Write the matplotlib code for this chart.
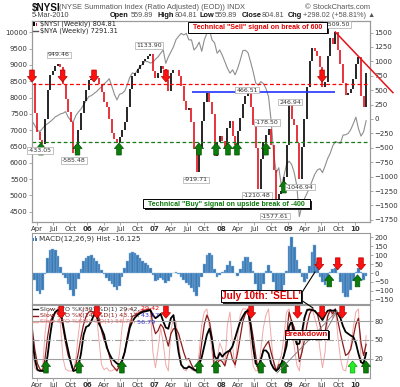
import matplotlib
matplotlib.use("Agg")
import matplotlib.pyplot as plt
import matplotlib.dates as mdates
from matplotlib.patches import Polygon, Rectangle
from matplotlib.lines import Line2D
from matplotlib.transforms import IdentityTransform
import pandas as pd

W, H = 400, 387

# biweekly readings taken off the chart
dates = pd.date_range("2005-03-08", periods=131, freq="14D")

nysi = [620, 100, -220, -370, -433, 0, 500, 770, 840, 920,
        949, 900, 600, 350, 120, -60, -585, -450, -190, 100,
        320, 500, 680, 700, 706, 710, 600, 460, 300, 214,
        0, -248, -340, -420, -320, -190, -50, 200, 520, 740,
        800, 860, 935, 1000, 1050, 1100, 1134, 830, 720, 800,
        920, 860, 680, 480, 790, 850, 850, 750, 580, 320,
        160, 190, -60, -520, -920, -500, -40, 300, 450, 300,
        80, -650, -400, -300, -380, -520, -150, -30, -300, -450,
        -200, 20, 260, 400, 466, 200, -100, -500, -1210, -700,
        -400, -280, -178, -450, -890, -1578, -1300, -1250, -1000, -450,
        247, 0, -100, -420, -1047, -480, 0, 560, 1000, 1226,
        1180, 1100, 900, 550, 650, 1100, 1400, 1300, 1509, 1200,
        950, 620, 417, 450, 520, 700, 950, 1082, 400, 214,
        805]

nya = [7280, 7150, 7000, 6960, 7050, 7150, 7200, 7260, 7330, 7410,
       7450, 7500, 7520, 7570, 7400, 7300, 7260, 7450, 7560, 7650,
       7780, 7900, 8030, 8060, 8120, 8180, 8260, 8330, 8420, 8490,
       8580, 8350, 8100, 7930, 8100, 8130, 8200, 8390, 8620, 8760,
       8720, 8850, 8950, 9030, 9120, 9100, 9060, 9080, 9180, 9250,
       9360, 9460, 9050, 9250, 9400, 9560, 9780, 9880, 9970, 9920,
       9970, 9770, 9770, 9460, 9550, 9700, 9420, 9770, 9970, 10080,
       9770, 9680, 9360, 9460, 9300, 9100, 8900, 8750, 8850, 8700,
       8900, 9150, 9440, 9450, 9380, 9100, 8800, 8450, 8380, 8490,
       8430, 8280, 8030, 7300, 6290, 5700, 5850, 5300, 5600, 5950,
       6050, 5950, 5700, 5300, 4350, 4700, 4900, 5070, 5250, 5450,
       5650, 5780, 5820, 5700, 5900, 6130, 6290, 6520, 6650, 6620,
       6600, 6850, 6860, 6900, 7020, 7200, 7400, 7050, 6820, 6950,
       7291]

macd_hist = [-10, -40, -100, -120, -95, -5, 85, 130, 134, 128,
             95, 35, -10, -30, -62, -95, -130, -90, -35, 20,
             65, 82, 98, 100, 84, 68, 48, 18, -8, -28,
             -45, -62, -80, -94, -75, -20, 30, 70, 110, 121,
             112, 100, 85, 70, 58, 44, 28, -10, -45, -40,
             -28, -38, -55, -45, -20, 0, 5, -5, -20, -38,
             -55, -65, -85, -105, -130, -80, -20, 50, 100, 115,
             100, 20, -25, -10, 8, 15, 45, 65, 40, 0,
             -15, 20, 70, 88, 90, 60, 10, -60, -125, -130,
             -60, 10, 45, 10, -50, -115, -150, -140, -70, 10,
             150, 200, 145, 75, 20, -25, -50, -35, 40, 120,
             158, 60, -20, -50, -65, -40, 5, 25, 28, 0,
             -50, -110, -135, -135, -95, -45, 5, 28, 5, -40,
             -16]

sto39 = [53, 20, 2, 0, 0, 0, 25, 58, 85, 95,
         98, 98, 75, 52, 33, 14, 0, 1, 8, 28,
         58, 71, 73, 80, 90, 90, 76, 68, 58, 38,
         28, 20, 16, 12, 10, 16, 30, 50, 70, 80,
         86, 90, 93, 95, 96, 97, 98, 90, 85, 88,
         92, 80, 70, 68, 85, 90, 60, 30, 10, 5,
         4, 7, 5, 2, 0, 10, 22, 40, 58, 68,
         50, 24, 18, 29, 23, 28, 31, 33, 40, 53,
         67, 80, 88, 95, 97, 74, 38, 12, 8, 18,
         33, 33, 28, 12, 4, 0, 4, 12, 25, 40,
         72, 80, 58, 43, 44, 62, 86, 98, 99, 98,
         97, 92, 88, 82, 90, 97, 98, 97, 98, 92,
         85, 72, 63, 60, 57, 55, 45, 28, 14, 12,
         29]

sto14 = [70, 35, 12, 3, 0, 20, 55, 80, 88, 95,
         98, 92, 70, 45, 25, 15, 0, 10, 30, 55,
         75, 88, 95, 96, 95, 95, 85, 65, 50, 42,
         25, 10, 5, 0, 8, 18, 30, 55, 75, 88,
         90, 92, 95, 97, 98, 99, 100, 75, 60, 65,
         75, 70, 55, 40, 60, 68, 68, 60, 45, 30,
         18, 20, 10, 3, 0, 12, 45, 75, 90, 80,
         55, 0, 12, 18, 15, 8, 25, 35, 18, 10,
         30, 55, 80, 92, 100, 80, 55, 25, 0, 18,
         35, 42, 48, 30, 15, 0, 10, 12, 25, 55,
         95, 80, 70, 50, 15, 30, 50, 75, 92, 100,
         96, 92, 75, 55, 62, 88, 98, 92, 100, 80,
         60, 42, 25, 28, 35, 55, 75, 85, 45, 25,
         43]

sto5 = [60, 5, 0, 0, 2, 60, 95, 100, 98, 100,
        98, 75, 20, 3, 0, 0, 0, 20, 60, 90,
        100, 100, 100, 95, 90, 92, 50, 10, 2, 5,
        0, 0, 3, 2, 30, 70, 95, 100, 100, 100,
        92, 95, 98, 100, 98, 100, 97, 30, 5, 35,
        70, 45, 10, 0, 65, 85, 80, 45, 12, 2,
        0, 10, 2, 0, 0, 30, 75, 95, 100, 70,
        30, 0, 20, 45, 35, 10, 75, 95, 40, 5,
        55, 90, 100, 100, 98, 45, 8, 0, 0, 35,
        70, 90, 100, 55, 10, 0, 15, 25, 55, 95,
        100, 65, 40, 10, 0, 40, 80, 100, 100, 100,
        85, 70, 35, 5, 30, 85, 100, 85, 100, 55,
        20, 2, 0, 20, 40, 70, 95, 100, 20, 3,
        57]

# signal arrows (dates)
main_sell = ["2005-03-07", "2005-08-21", "2006-02-08", "2007-03-07", "2009-07-05"]
main_buy = ["2005-04-25", "2005-11-10", "2006-06-24", "2007-09-03", "2007-12-05",
            "2008-02-08", "2008-03-28", "2008-09-02"]
main_buy_low = ["2008-12-09"]
macd_sell = ["2009-06-19", "2009-09-28", "2010-02-02"]
macd_buy = ["2009-08-13", "2010-01-14"]
sto_sell = ["2005-08-13", "2006-02-24", "2007-03-07", "2008-06-13", "2009-02-21",
            "2009-07-05", "2009-10-22"]
sto_buy = ["2005-05-22", "2005-11-18", "2006-07-10", "2007-09-03", "2007-12-05",
           "2008-08-06", "2008-12-09", "2010-03-01"]
sto_buy_lime = ["2009-12-18"]

fig = plt.figure(figsize=(W / 100, H / 100), dpi=100)
fig.patch.set_facecolor("white")
SANS = "Liberation Sans"


def px_box(l, t, r, b):
    return [l / W, 1 - b / H, (r - l) / W, (b - t) / H]


def ftext(x, y, s, **kw):
    kw.setdefault("va", "center")
    return fig.text(x / W, 1 - y / H, s, **kw)


xlim = (pd.Timestamp("2005-03-07"), pd.Timestamp("2010-03-23"))
ticks, labels = [], []
for yr in range(2005, 2011):
    for m in (1, 4, 7, 10):
        d = pd.Timestamp(yr, m, 1)
        if xlim[0] < d < xlim[1]:
            ticks.append(d)
            labels.append("%02d" % (yr % 100) if m == 1 else d.strftime("%b"))

ax_nya = fig.add_axes(px_box(32, 21, 370, 222))
ax = ax_nya.twinx()
ax_macd = fig.add_axes(px_box(32, 233, 370, 304))
ax_sto = fig.add_axes(px_box(32, 305, 370, 377.5))

for a in (ax_nya, ax, ax_macd, ax_sto):
    a.set_xlim(*xlim)
    for s in a.spines.values():
        s.set_color("#9a9a9a")
        s.set_linewidth(0.8)
    a.tick_params(length=2, width=0.5, color="#888888", labelsize=5,
                  labelcolor="#333333", pad=1)

for a in (ax_nya, ax_macd, ax_sto):
    a.set_xticks(ticks)
    a.set_xticklabels(labels)
    for lab in a.get_xticklabels():
        if lab.get_text().isdigit():
            lab.set_fontweight("bold")
ax_macd.tick_params(axis="x", labelbottom=False)

# main panel
ax_nya.plot(dates, nya, color="#8e8e8e", lw=0.8)
ax_nya.set_ylim(4185, 10349)
ax_nya.set_yticks(range(4500, 10001, 500))

cols = ["black" if b >= a else "#e3121b" for a, b in zip(nysi[:-1], nysi[1:])]
ax.vlines(dates[1:], nysi[:-1], nysi[1:], colors=cols, lw=1.2)
ax.set_ylim(-1788, 1701)
ax.set_yticks(range(-1750, 1501, 250))
ax.axhline(600, color="red", ls=(0, (3, 2)), lw=0.9)
ax.axhline(-400, color="#167a16", ls=(0, (3, 2)), lw=0.9)
ax.hlines(466.51, pd.Timestamp("2007-07-25"), pd.Timestamp("2009-09-14"),
          color="#2233ff", lw=1.2)
ax.plot([dates[118], pd.Timestamp("2010-07-26")], [1509.5, 457],
        color="#e3121b", lw=1.1, clip_on=False, zorder=4)

# MACD panel
ax_macd.bar(dates, macd_hist, width=14, color="#3a7bb6", edgecolor="#8fb9de", lw=0.3)
ax_macd.set_ylim(-174, 225)
ax_macd.yaxis.tick_right()
ax_macd.set_yticks(range(-150, 201, 50))

# stochastics panel
ax_sto.plot(dates, sto5, color="#f2a7a7", lw=0.7)
ax_sto.plot(dates, sto14, color="#8b1a1a", lw=0.9)
ax_sto.plot(dates, sto39, color="black", lw=1.3)
for lv in (80, 20):
    ax_sto.axhline(lv, color="#a0a0a0", lw=0.8)
ax_sto.axhline(50, color="#a0a0a0", lw=0.8, ls="-.")
ax_sto.set_ylim(-10.6, 106.3)
ax_sto.yaxis.tick_right()
ax_sto.set_yticks([20, 50, 80])


def arrow(a, d, v, up, fc, ec):
    X, Y = a.transData.transform((mdates.date2num(pd.Timestamp(d)), v))
    hw, sw, hh, th = 4.6, 2.3, 5.5, 12
    sgn = -1 if up else 1
    verts = [(X, Y), (X - hw, Y + sgn * hh), (X - sw, Y + sgn * hh), (X - sw, Y + sgn * th),
             (X + sw, Y + sgn * th), (X + sw, Y + sgn * hh), (X + hw, Y + sgn * hh)]
    fig.add_artist(Polygon(verts, closed=True, transform=IdentityTransform(),
                           fc=fc, ec=ec, lw=0.5, zorder=5))


RED, RED_E = "#ff1010", "#b00000"
GRN, GRN_E = "#0a7d0a", "#045004"
for d in main_sell:
    arrow(ax, d, 642, False, RED, RED_E)
for d in main_buy:
    arrow(ax, d, -417, True, GRN, GRN_E)
for d in main_buy_low:
    arrow(ax, d, -1076, True, GRN, GRN_E)
for d in macd_sell:
    arrow(ax_macd, d, 18, False, RED, RED_E)
for d in macd_buy:
    arrow(ax_macd, d, -10, True, GRN, GRN_E)
for d in sto_sell:
    arrow(ax_sto, d, 85, False, RED, RED_E)
for d in sto_buy:
    arrow(ax_sto, d, 16, True, GRN, GRN_E)
for d in sto_buy_lime:
    arrow(ax_sto, d, 16, True, "#22ee22", "#10a010")

# value labels on the summation index
peaks = [("949.46", 59, 55), ("-433.05", 40, 150.5), ("-585.48", 74, 160.5),
         ("1133.90", 149, 45.5), ("-919.71", 196, 180), ("466.51", 247, 90),
         ("246.94", 290, 102), ("-178.50", 267, 122.5), ("-1210.48", 257, 195.5),
         ("-1577.61", 275, 216), ("-1046.94", 300, 187), ("1509.50", 337, 24.5)]
for s, x, y in peaks:
    ftext(x, y, s, ha="center", fontsize=4.5, color="#333333", zorder=6,
          bbox=dict(boxstyle="square,pad=0.15", fc="white", ec="#aaaaaa", lw=0.5))


def callout(l, t, r, b, s, color, size):
    fig.add_artist(Rectangle(((l + 1.5) / W, 1 - (b + 1.5) / H), (r - l) / W, (b - t) / H,
                             transform=fig.transFigure, fc="#222222", ec="none", zorder=6))
    fig.add_artist(Rectangle((l / W, 1 - b / H), (r - l) / W, (b - t) / H,
                             transform=fig.transFigure, fc="white", ec="black", lw=0.7, zorder=7))
    ftext((l + r) / 2, (t + b) / 2, s, ha="center", color=color, fontsize=size,
          fontweight="bold", family=SANS, zorder=8)


def fline(pts, color, lw):
    fig.add_artist(Line2D([p[0] / W for p in pts], [1 - p[1] / H for p in pts],
                          transform=fig.transFigure, color=color, lw=lw, zorder=6))


fline([(301, 294), (315, 272)], "black", 0.8)
fline([(301, 300), (313, 308)], "black", 0.8)
fline([(277, 373), (337, 311)], "#777777", 0.6)
fline([(326, 331), (337, 311)], "#777777", 0.6)

callout(188, 22.5, 327, 32.5, 'Technical "Sell" signal on break of 600', "#e00000", 5.0)
callout(143, 199.5, 310, 208.5, 'Technical "Buy" signal on upside break of -400', "#0b7a0b", 5.0)
callout(221, 290, 301, 302, "July 10th: 'SELL'", "#e00000", 7.2)
callout(285, 329.5, 328, 338.5, "Breakdown", "#e00000", 5.8)

# header
ftext(32, 7.5, "$NYSI", fontsize=7.2, fontweight="bold", color="#111111", family=SANS)
ftext(59, 7.5, "(NYSE Summation Index (Ratio Adjusted) (EOD)) INDX", fontsize=5.4,
      color="#555555", family=SANS)
ftext(370, 7.5, "© StockCharts.com", ha="right", fontsize=5.4, color="#555555", family=SANS)
ftext(32, 15.5, "5-Mar-2010", fontsize=5.2, color="#444444", family=SANS)
for s, x, bold in [("Open", 110, True), ("559.89", 131, False), ("High", 157, True),
                   ("804.81", 175, False), ("Low", 200, True), ("559.89", 215, False),
                   ("Close", 242, True), ("804.81", 262, False), ("Chg", 288, True),
                   ("+298.02 (+58.81%) ▲", 303, False)]:
    ftext(x, 15.5, s, fontsize=5.3, color="#111111" if bold else "#555555",
          fontweight="bold" if bold else "normal", family=[SANS, "DejaVu Sans"])

# legends
fig.add_artist(Rectangle((33 / W, 1 - 26 / H), 1.5 / W, 4 / H, transform=fig.transFigure,
                         fc="black", ec="none", zorder=6))
fig.add_artist(Rectangle((35.5 / W, 1 - 26 / H), 1.5 / W, 3 / H, transform=fig.transFigure,
                         fc="#e3121b", ec="none", zorder=6))
ftext(40, 24, "$NYSI (Weekly) 804.81", fontsize=4.8, color="#222222")
fline([(33, 30.5), (38, 30.5)], "#555555", 1.0)
ftext(40, 30.5, "$NYA (Weekly) 7291.31", fontsize=4.8, color="#222222")

for i, hgt in enumerate([3, 4.5, 2.5]):
    fig.add_artist(Rectangle(((33 + i * 1.6) / W, 1 - 240.5 / H), 1.2 / W, hgt / H,
                             transform=fig.transFigure, fc="#3a7bb6", ec="none", zorder=6))
ftext(39, 238.5, "MACD(12,26,9) Hist -16.125", fontsize=5.2, color="#333333")

sto_leg = [("Slow STO %K(39) %D(1) 29.42,", " 29.42", "black", "#333333", "#e00000", 309),
           ("Slow STO %K(14) %D(1) 43.17,", " 43.17", "#8b1a1a", "#8b1a1a", "#3333cc", 315.5),
           ("Slow STO %K(5) %D(1) 56.79,", " 56.79", "#f2a7a7", "#f07070", "#3333cc", 322)]
for s1, s2, lc, tc, vc, y in sto_leg:
    fline([(33, y), (38, y)], lc, 1.0)
    t1 = ftext(40, y, s1, fontsize=4.6, color=tc)
    ax_sto.annotate(s2, xy=(1, 0), xycoords=t1, va="bottom", fontsize=4.6, color=vc)

fig.savefig("out.png", dpi=100)
